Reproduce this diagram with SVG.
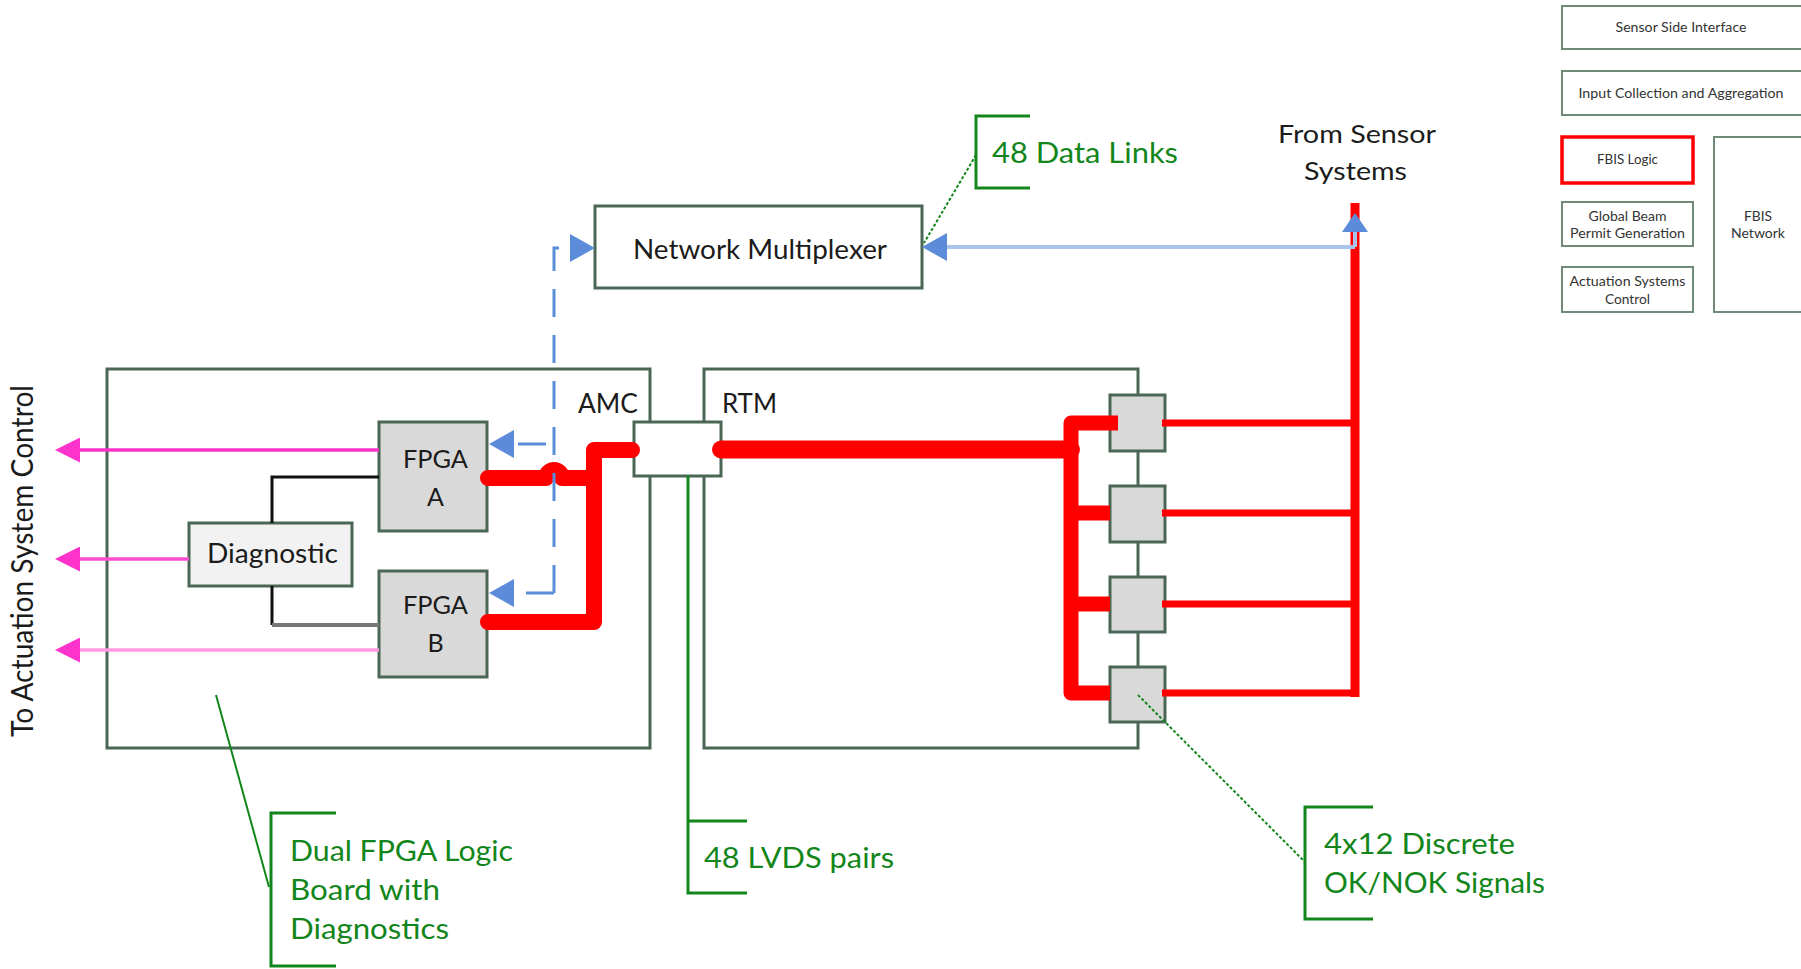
<svg xmlns="http://www.w3.org/2000/svg" width="1801" height="969" viewBox="0 0 1801 969">
<style>
  text { font-family: Lato, "Liberation Sans", Arial, sans-serif; fill: #1b1b1b; }
  .box { fill: #ffffff; stroke: #4a6654; stroke-width: 3; }
  .gray { fill: #d9d9d9; stroke: #4a6654; stroke-width: 3; }
  .light { fill: #f2f2f2; stroke: #4a6654; stroke-width: 3; }
  .lg { fill: #ffffff; stroke: #708a78; stroke-width: 2; }
  .lgred { fill: #ffffff; stroke: #ff0000; stroke-width: 3.5; }
  .sm { font-size: 13px; fill: #333333; }
  .md { font-size: 26px; }
  .gt { font-size: 29px; fill: #12861a; }
  .gline { fill: none; stroke: #12861a; stroke-width: 3; }
  .lead { fill: none; stroke: #12861a; stroke-width: 2; }
  .red { fill: none; stroke: #ff0000; stroke-linejoin: round; }
  .blued { fill: none; stroke: #5b8ed8; stroke-width: 3; stroke-dasharray: 28 18; }
  .bluel { fill: none; stroke: #a8c4ea; stroke-width: 4; }
  .pink { fill: none; stroke-width: 3.5; }
</style>
<defs>
  <marker id="ahBlue" viewBox="0 0 25 28" refX="0" refY="14" markerWidth="25" markerHeight="28" markerUnits="userSpaceOnUse" orient="auto">
    <path d="M0,0 L25,14 L0,28 z" fill="#5b8bd9"/>
  </marker>
  <marker id="ahBlueS" viewBox="0 0 19 26" refX="0" refY="13" markerWidth="19" markerHeight="26" markerUnits="userSpaceOnUse" orient="auto">
    <path d="M0,0 L19,13 L0,26 z" fill="#5b8bd9"/>
  </marker>
  <marker id="ahPink" viewBox="0 0 25 25" refX="0" refY="12.5" markerWidth="25" markerHeight="25" markerUnits="userSpaceOnUse" orient="auto">
    <path d="M0,0 L25,12.5 L0,25 z" fill="#ff33cc"/>
  </marker>
</defs>

<!-- Legend (top right) -->
<g id="legend-sensor-side">
  <rect class="lg" x="1562" y="6" width="260" height="43"/>
  <text class="sm" x="1681" y="32" text-anchor="middle" textLength="131" lengthAdjust="spacingAndGlyphs">Sensor Side Interface</text>
</g>
<g id="legend-input">
  <rect class="lg" x="1562" y="71" width="260" height="44"/>
  <text class="sm" x="1681" y="98" text-anchor="middle" textLength="205" lengthAdjust="spacingAndGlyphs">Input Collection and Aggregation</text>
</g>
<g id="legend-fbis-logic">
  <rect class="lgred" x="1562" y="137" width="131" height="46"/>
  <text class="sm" x="1627.5" y="164" text-anchor="middle" textLength="61" lengthAdjust="spacingAndGlyphs">FBIS Logic</text>
</g>
<g id="legend-global-beam">
  <rect class="lg" x="1562" y="202" width="131" height="44"/>
  <text class="sm" x="1627.5" y="221" text-anchor="middle" textLength="78" lengthAdjust="spacingAndGlyphs">Global Beam</text>
  <text class="sm" x="1627.5" y="238" text-anchor="middle" textLength="115" lengthAdjust="spacingAndGlyphs">Permit Generation</text>
</g>
<g id="legend-actuation">
  <rect class="lg" x="1562" y="267" width="131" height="45"/>
  <text class="sm" x="1627.5" y="286" text-anchor="middle" textLength="116" lengthAdjust="spacingAndGlyphs">Actuation Systems</text>
  <text class="sm" x="1627.5" y="304" text-anchor="middle" textLength="45" lengthAdjust="spacingAndGlyphs">Control</text>
</g>
<g id="legend-fbis-network">
  <rect class="lg" x="1714" y="137" width="110" height="175"/>
  <text class="sm" x="1758" y="221" text-anchor="middle" textLength="28" lengthAdjust="spacingAndGlyphs">FBIS</text>
  <text class="sm" x="1758" y="238" text-anchor="middle" textLength="54" lengthAdjust="spacingAndGlyphs">Network</text>
</g>

<!-- Main boards -->
<g id="amc-board">
  <rect class="box" x="107" y="369" width="543" height="379"/>
  <text class="md" x="578" y="413" textLength="60" lengthAdjust="spacingAndGlyphs">AMC</text>
</g>
<g id="rtm-board">
  <rect class="box" x="704" y="369" width="434" height="379"/>
  <text class="md" x="722" y="413" textLength="55" lengthAdjust="spacingAndGlyphs">RTM</text>
</g>
<g id="network-multiplexer">
  <rect class="box" x="595" y="206" width="327" height="82"/>
  <text class="md" x="633" y="259" textLength="254" lengthAdjust="spacingAndGlyphs">Network Multiplexer</text>
</g>
<g id="connector">
  <rect class="box" x="634" y="422" width="87" height="54"/>
</g>
<g id="fpga-a">
  <rect class="gray" x="379" y="422" width="108" height="109"/>
  <text x="435.5" y="468" font-size="25" text-anchor="middle" textLength="65" lengthAdjust="spacingAndGlyphs">FPGA</text>
  <text x="435.5" y="506" font-size="25" text-anchor="middle">A</text>
</g>
<g id="fpga-b">
  <rect class="gray" x="379" y="571" width="108" height="106"/>
  <text x="435.5" y="614" font-size="25" text-anchor="middle" textLength="65" lengthAdjust="spacingAndGlyphs">FPGA</text>
  <text x="435.5" y="652" font-size="25" text-anchor="middle">B</text>
</g>
<g id="diagnostic">
  <rect class="light" x="189" y="523" width="163" height="63"/>
  <text x="272.5" y="563" font-size="26" text-anchor="middle" textLength="131" lengthAdjust="spacingAndGlyphs">Diagnostic</text>
</g>
<g id="discrete-1"><rect class="gray" x="1110" y="395" width="55" height="56"/></g>
<g id="discrete-2"><rect class="gray" x="1110" y="486" width="55" height="56"/></g>
<g id="discrete-3"><rect class="gray" x="1110" y="577" width="55" height="55"/></g>
<g id="discrete-4"><rect class="gray" x="1110" y="667" width="55" height="55"/></g>

<!-- Connectors -->
<g id="connectors">
  <!-- Diagnostic links -->
  <path d="M272 523 V477 H379" fill="none" stroke="#111111" stroke-width="3"/>
  <path d="M272 586 V625" fill="none" stroke="#111111" stroke-width="3"/>
  <path d="M272 625 H379" fill="none" stroke="#777777" stroke-width="4"/>

  <!-- Pink outputs -->
  <path class="pink" d="M379 450 H80" stroke="#ff33cc" marker-end="url(#ahPink)"/>
  <path class="pink" d="M189 559 H80" stroke="#ff4dd2" marker-end="url(#ahPink)"/>
  <path class="pink" d="M379 650 H80" stroke="#ff99e0" marker-end="url(#ahPink)"/>

  <!-- Red FBIS signal paths -->
  <path class="red" d="M488 478 H546 A8 8 0 0 1 562 478 H594" stroke-width="16" stroke-linecap="round"/>
  <path class="red" d="M632 450 H594 V622 H488" stroke-width="16" stroke-linecap="round"/>
  <path class="red" d="M721 449.5 H1071" stroke-width="18" stroke-linecap="round"/>
  <path class="red" d="M1118 423 H1071 V693 H1110" stroke-width="15"/>
  <path class="red" d="M1071 513 H1110" stroke-width="15"/>
  <path class="red" d="M1071 604 H1110" stroke-width="15"/>
  <path class="red" d="M1162 423 H1355" stroke-width="7"/>
  <path class="red" d="M1162 513 H1355" stroke-width="7"/>
  <path class="red" d="M1162 604 H1355" stroke-width="7"/>
  <path class="red" d="M1162 693 H1359" stroke-width="7"/>
  <path class="red" d="M1355 203 V697" stroke-width="9"/>

  <!-- Blue data links -->
  <path class="bluel" d="M1355 247 H947" marker-end="url(#ahBlue)"/>
  <path class="bluel" d="M1355 247 V232" stroke="#5b8bd9" stroke-width="3" marker-end="url(#ahBlueS)"/>
  <path class="blued" d="M554 593 V248 H570" marker-end="url(#ahBlue)"/>
  <path class="blued" d="M546 444 H514" stroke-dasharray="none" marker-end="url(#ahBlue)"/>
  <path class="blued" d="M554 593 H514" stroke-dasharray="0 8 30 0" marker-end="url(#ahBlue)"/>
</g>

<!-- Labels and callouts -->
<g id="label-actuation">
  <text transform="translate(33,561) rotate(-90)" x="0" y="0" font-size="30" text-anchor="middle" textLength="352" lengthAdjust="spacingAndGlyphs">To Actuation System Control</text>
</g>
<g id="label-from-sensor">
  <text x="1357" y="143" font-size="25" text-anchor="middle" textLength="158" lengthAdjust="spacingAndGlyphs">From Sensor</text>
  <text x="1355.5" y="180" font-size="25" text-anchor="middle" textLength="103" lengthAdjust="spacingAndGlyphs">Systems</text>
</g>
<g id="callout-data-links">
  <path class="gline" d="M1030 116 H976 V188 H1030"/>
  <path class="lead" d="M976 155 L924 243" stroke-dasharray="3 2"/>
  <text class="gt" x="992" y="163" textLength="186" lengthAdjust="spacingAndGlyphs">48 Data Links</text>
</g>
<g id="callout-lvds">
  <path class="gline" d="M688 476 V893 H747"/>
  <path class="gline" d="M688 821 H747"/>
  <text class="gt" x="704" y="868" textLength="190" lengthAdjust="spacingAndGlyphs">48 LVDS pairs</text>
</g>
<g id="callout-dual-fpga">
  <path class="gline" d="M336 813 H271 V966 H336"/>
  <path class="lead" d="M216 695 L269 887"/>
  <text class="gt" x="290" y="861" textLength="223" lengthAdjust="spacingAndGlyphs">Dual FPGA Logic</text>
  <text class="gt" x="290" y="900" textLength="150" lengthAdjust="spacingAndGlyphs">Board with</text>
  <text class="gt" x="290" y="939" textLength="159" lengthAdjust="spacingAndGlyphs">Diagnostics</text>
</g>
<g id="callout-discrete">
  <path class="gline" d="M1373 807 H1305 V919 H1373"/>
  <path class="lead" d="M1138 695 L1305 862" stroke-dasharray="3 2"/>
  <text class="gt" x="1324" y="854" textLength="191" lengthAdjust="spacingAndGlyphs">4x12 Discrete</text>
  <text class="gt" x="1324" y="893" textLength="221" lengthAdjust="spacingAndGlyphs">OK/NOK Signals</text>
</g>
</svg>
